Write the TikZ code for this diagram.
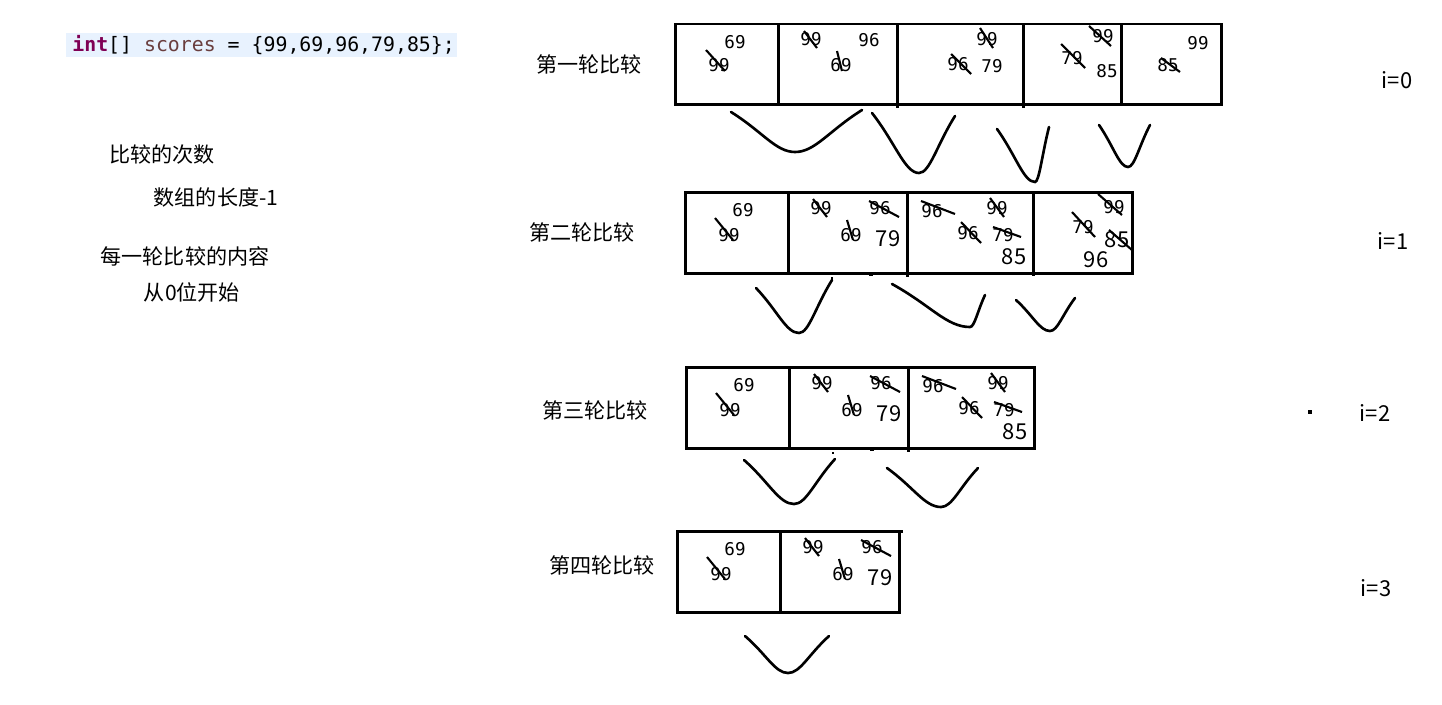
\documentclass[tikz,border=0pt]{standalone}
\usepackage{fontspec}
\newfontfamily\cjk{Noto Sans CJK SC}
\newfontfamily\codefont{DejaVu Sans Mono}
\usetikzlibrary{calc}
\definecolor{kwpurple}{RGB}{127,0,85}
\definecolor{varbrown}{RGB}{106,62,62}
\definecolor{codebg}{RGB}{232,242,254}

\newcommand{\bowl}[3]{\draw[bowlline] (#1) .. controls ($(#1)!0.5!(#2)$) and ($(#2)!0.3!(#1 |- #2)$) .. (#2)
  .. controls ($(#2)!0.3!(#3 |- #2)$) and ($(#3)!0.5!(#2)$) .. (#3);}

\newcommand{\cellA}{%
  \node[smallnum] (a69) at (743,210) {69};
  \node[smallnum] (a99) at (729,235) {99};
  \draw[crossline] (715,218) -- (733,240);}
\newcommand{\cellB}{%
  \node[smallnum] (b99) at (821,208) {99};
  \draw[crossline] (813,199) -- (827,217);
  \node[smallnum] (b96) at (880,208) {96};
  \draw[crossline] (869,201) -- (899,217);
  \node[smallnum] (b69) at (851,235) {69};
  \draw[crossline] (847,220) -- (853,240);
  \node[bignum] (b79) at (888,239) {79};}
\newcommand{\cellC}{%
  \node[smallnum] (c96a) at (932,211) {96};
  \draw[crossline] (921,201) -- (955,214);
  \node[smallnum] (c99) at (997,208) {99};
  \draw[crossline] (990,198) -- (1004,217);
  \node[smallnum] (c96b) at (968,233) {96};
  \draw[crossline] (961,222) -- (981,243);
  \node[smallnum] (c79) at (1003,235) {79};
  \draw[crossline] (993,227) -- (1021,237);
  \node[bignum] (c85) at (1014,257) {85};}

\begin{document}
\begin{tikzpicture}[x=0.02cm, y=-0.02cm,
  cellline/.style={line width=1.7pt},
  bowlline/.style={line width=1.5pt, line cap=round},
  crossline/.style={line width=1.2pt},
  smallnum/.style={inner sep=0pt, font=\codefont\fontsize{10}{12}\selectfont},
  bignum/.style={inner sep=0pt, font=\cjk\fontsize{12.5}{14}\selectfont},
  rowtext/.style={inner sep=0pt, font=\cjk\fontsize{12}{14}\selectfont}]
  \useasboundingbox (0,0) rectangle (1442,704);

  \fill[codebg] (66,33) rectangle (457,57);
  \node[anchor=base west, inner sep=0pt, font=\codefont\fontsize{11.3}{13}\selectfont] (code) at (72,51)
    {\textcolor{kwpurple}{\textbf{int}}[] \textcolor{varbrown}{scores} = \{99,69,96,79,85\};};

  \node[rowtext] (times) at (162,154) {比较的次数};
  \node[rowtext] (length) at (216,197) {数组的长度-1};
  \node[rowtext] (content) at (185,256) {每一轮比较的内容};
  \node[rowtext] (start) at (192,292) {从0位开始};

  \node[rowtext] (round1) at (589,64) {第一轮比较};
  \node[rowtext] (round2) at (582,232) {第二轮比较};
  \node[rowtext] (round3) at (595,410) {第三轮比较};
  \node[rowtext] (round4) at (602,565) {第四轮比较};

  \node[bignum] (i0) at (1397,80) {i=0};
  \node[bignum] (i1) at (1393,241) {i=1};
  \node[bignum] (i2) at (1375,413) {i=2};
  \node[bignum] (i3) at (1376,588) {i=3};
  \fill (1308,410) rectangle (1312,414);

  % first round
  \draw[cellline] (675,24) rectangle (1221,104);
  \draw[cellline] (778,24) -- (778,104) (897,24) -- (897,108) (1023,24) -- (1023,108) (1121,24) -- (1121,104);
  \node[smallnum] (p69) at (735,42) {69};
  \node[smallnum] (p99) at (719,65) {99};
  \draw[crossline] (706,50) -- (725,71);
  \node[smallnum] (q99) at (811,39) {99};
  \draw[crossline] (804,31) -- (817,48);
  \node[smallnum] (q96) at (869,40) {96};
  \node[smallnum] (q69) at (841,65) {69};
  \draw[crossline] (837,51) -- (842,71);
  \node[smallnum] (s99) at (987,39) {99};
  \draw[crossline] (980,28) -- (993,48);
  \node[smallnum] (s96) at (958,64) {96};
  \draw[crossline] (951,54) -- (971,74);
  \node[smallnum] (s79) at (992,66) {79};
  \node[smallnum] (t99) at (1103,36) {99};
  \draw[crossline] (1089,26) -- (1111,46);
  \node[smallnum] (t79) at (1072,58) {79};
  \draw[crossline] (1061,44) -- (1085,68);
  \node[smallnum] (t85) at (1107,71) {85};
  \node[smallnum] (u99) at (1198,43) {99};
  \node[smallnum] (u85) at (1168,65) {85};
  \draw[crossline] (1161,58) -- (1180,72);
  \bowl{731,112}{795,152}{862,110}
  \bowl{872,113}{919,173}{955,116}
  \bowl{997,129}{1035,182}{1049,127}
  \bowl{1099,125}{1128,167}{1150,125}

  % second round
  \begin{scope}[name prefix=r2-]
    \draw[cellline] (685,192) rectangle (1132,273);
    \draw[cellline] (788,192) -- (788,273) (907,192) -- (907,277) (1033,192) -- (1033,276);
    \cellA \cellB \cellC
    \node[smallnum] (d99) at (1114,207) {99};
    \draw[crossline] (1098,194) -- (1122,215);
    \node[smallnum] (d79) at (1083,227) {79};
    \draw[crossline] (1072,212) -- (1095,237);
    \node[bignum] (d85) at (1117,240) {85};
    \draw[crossline] (1109,230) -- (1132,250);
    \node[bignum] (d96) at (1096,260) {96};
    \fill (831,277) rectangle (833,279);
    \fill (869,274) rectangle (873,276);
  \end{scope}
  \bowl{756,288}{799,333}{832,280}
  \bowl{892,284}{970,327}{985,295}
  \bowl{1016,300}{1050,331}{1075,298}

  % third round
  \begin{scope}[shift={(1,175)}, name prefix=r3-]
    \draw[cellline] (685,192) rectangle (1033,273);
    \draw[cellline] (788,192) -- (788,273) (907,192) -- (907,277);
    \cellA \cellB \cellC
    \fill (831,277) rectangle (833,279);
    \fill (869,274) rectangle (873,276);
  \end{scope}
  \bowl{744,460}{794,504}{835,459}
  \bowl{887,468}{941,507}{978,468}

  % fourth round
  \begin{scope}[shift={(-8,339)}, name prefix=r4-]
    \draw[cellline] (685,192) rectangle (907,273);
    \draw[cellline] (788,192) -- (788,273) (907,192) -- (911,192);
    \cellA \cellB
  \end{scope}
  \bowl{745,636}{788,673}{829,636}
\end{tikzpicture}
\end{document}
